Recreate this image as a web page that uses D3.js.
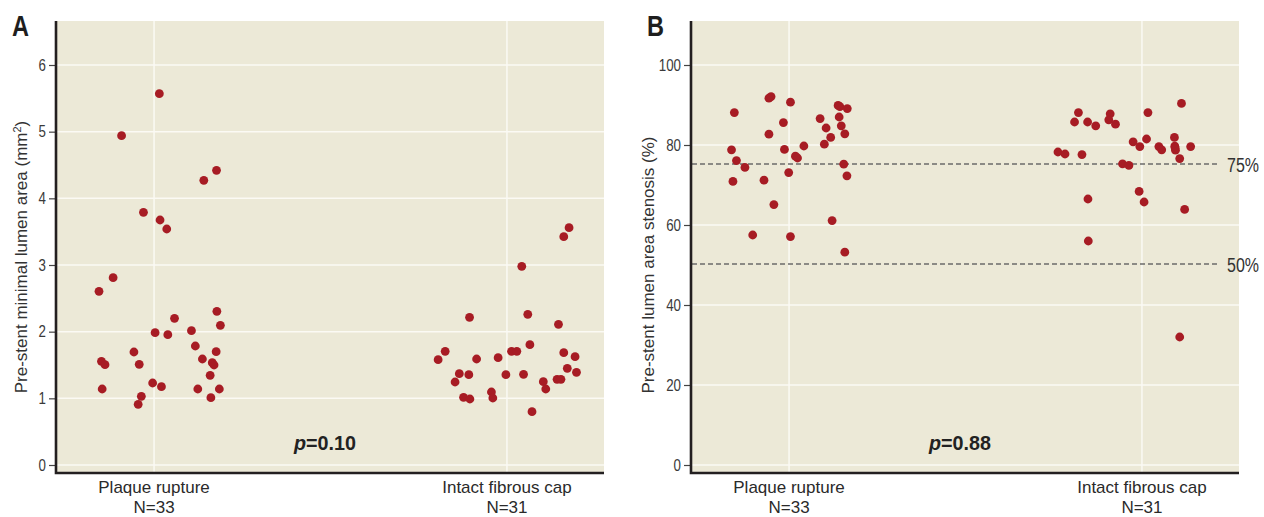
<!DOCTYPE html>
<html>
<head>
<meta charset="utf-8">
<script src="https://d3js.org/d3.v7.min.js"></script>
<style>
  body { margin: 0; background: #fff; }
  .tick text { font-family: "Liberation Sans", Arial, sans-serif; font-size: 16px; fill: #3a3a3a; }
  .tick line { stroke: #444; stroke-width: 1.2; }
</style>
</head>
<body>
<div id="chart"></div>
<script>
// groups on the x axis
var categories = ["Plaque rupture", "Intact fibrous cap"];
var groupN = ["N=33", "N=31"];

// panel A: pre-stent minimal lumen area (mm2), with horizontal jitter (in category units)
var areaRupture = [5.57, 4.94, 4.27, 4.42, 3.79, 3.675, 3.54, 2.605, 2.81, 1.555, 1.505, 1.14, 1.695, 1.51, 1.03, 0.91,
  1.985, 1.955, 2.2, 1.23, 1.175, 2.015, 1.785, 1.59, 2.305, 2.095, 1.70, 1.535, 1.50, 1.345, 1.14, 1.14, 1.01];
var areaRuptureJitter = [0.015, -0.092, 0.141, 0.177, -0.030, 0.017, 0.036, -0.156, -0.116, -0.149, -0.139, -0.147, -0.057, -0.042, -0.036, -0.045,
  0.003, 0.039, 0.058, -0.004, 0.021, 0.106, 0.117, 0.137, 0.178, 0.188, 0.176, 0.165, 0.170, 0.159, 0.124, 0.185, 0.161];
var areaIntact = [3.56, 3.425, 2.98, 2.215, 2.26, 2.11, 1.58, 1.705, 1.59, 1.61, 1.705, 1.705, 1.805, 1.685, 1.625, 1.37,
  1.355, 1.245, 1.355, 1.36, 1.45, 1.39, 1.25, 1.14, 1.285, 1.285, 1.015, 0.99, 1.095, 1.005, 0.80];
var areaIntactJitter = [0.176, 0.161, 0.042, -0.106, 0.059, 0.146, -0.195, -0.175, -0.086, -0.025, 0.013, 0.028, 0.065, 0.161, 0.193, -0.135,
  -0.108, -0.147, -0.003, 0.047, 0.171, 0.197, 0.103, 0.110, 0.142, 0.153, -0.123, -0.105, -0.044, -0.040, 0.071];

// panel B: pre-stent lumen area stenosis (%)
var stenRupture = [88.1, 78.8, 76.1, 74.4, 70.9, 71.2, 57.5, 65.1, 91.7, 92.1, 90.7, 85.6, 82.7, 78.9, 77.2, 76.75, 73.1,
  57.1, 79.75, 86.6, 84.25, 81.9, 80.2, 89.9, 89.6, 89.1, 87.0, 84.8, 82.8, 75.2, 72.3, 61.1, 53.2];
var stenRuptureJitter = [-0.155, -0.163, -0.149, -0.125, -0.159, -0.071, -0.103, -0.043, -0.057, -0.051, 0.004, -0.016, -0.057, -0.013, 0.018, 0.024, -0.001,
  0.004, 0.042, 0.088, 0.105, 0.118, 0.100, 0.139, 0.144, 0.165, 0.142, 0.148, 0.158, 0.155, 0.164, 0.122, 0.158];
var stenIntact = [88.1, 85.75, 85.75, 84.8, 87.8, 86.3, 85.2, 88.1, 90.4, 78.25, 77.75, 77.6, 80.8, 79.6, 81.5, 81.9,
  79.6, 78.8, 79.7, 78.7, 79.6, 76.6, 75.3, 74.9, 68.4, 65.75, 66.5, 63.9, 56.0, 32.0, 79.3];
var stenIntactJitter = [-0.180, -0.191, -0.154, -0.131, -0.090, -0.094, -0.075, 0.017, 0.112, -0.238, -0.218, -0.170, -0.025, -0.006, 0.013, 0.092,
  0.048, 0.056, 0.093, 0.095, 0.138, 0.107, -0.055, -0.037, -0.008, 0.006, -0.153, 0.121, -0.152, 0.107, 0.094];

var areaTicks = [0, 1, 2, 3, 4, 5, 6];
var stenTicks = [0, 20, 40, 60, 80, 100];
var stenCutoffs = [75, 50];
var pValues = ["0.10", "0.88"];

var Width = 1264, Height = 517;
var bg = "#ece9d7", dotColor = "#a71c24", ink = "#231f20";

var svg = d3.select("#chart").append("svg")
  .attr("width", Width)
  .attr("height", Height)
  .style("font-family", "'Liberation Sans', Arial, sans-serif");

function drawPanel(p) {
  var x = d3.scaleLinear().domain([-0.275, 1.275]).range([p.left, p.left + p.width]);
  var y = d3.scaleLinear().domain(p.yDomain).range([p.top + p.height, p.top]);

  // plot background
  svg.append("rect")
    .attr("x", p.left).attr("y", p.top)
    .attr("width", p.width).attr("height", p.height)
    .attr("fill", bg);

  // grid
  svg.append("g").selectAll("line.h")
    .data(p.ticks).enter().append("line")
      .attr("x1", p.left).attr("x2", p.left + p.width)
      .attr("y1", function(d) { return y(d); })
      .attr("y2", function(d) { return y(d); })
      .attr("stroke", "#fbfaf4").attr("stroke-width", 1.5);
  svg.append("g").selectAll("line.v")
    .data(categories).enter().append("line")
      .attr("x1", function(d, i) { return x(i); })
      .attr("x2", function(d, i) { return x(i); })
      .attr("y1", p.top).attr("y2", p.top + p.height)
      .attr("stroke", "#fbfaf4").attr("stroke-width", 1.5);

  // reference lines (panel B)
  if (p.cutoffs) {
    svg.append("g").selectAll("line")
      .data(p.cutoffs).enter().append("line")
        .attr("x1", p.left).attr("x2", p.left + p.width - 21)
        .attr("y1", function(d) { return y(d) - 1; })
        .attr("y2", function(d) { return y(d) - 1; })
        .attr("stroke", "#6b6b6b").attr("stroke-width", 1.3)
        .attr("stroke-dasharray", "5,3");
    // narrow, tall labels: small font stretched vertically
    svg.append("g").selectAll("text")
      .data(p.cutoffs).enter().append("text")
        .attr("transform", function(d) {
          return "translate(" + (p.left + p.width - 12) + "," + (y(d) + 7) + ") scale(1,1.3)";
        })
        .attr("font-size", 16)
        .attr("fill", "#333")
        .text(function(d) { return d + "%"; });
  }

  // y axis ticks
  svg.append("g")
    .attr("transform", "translate(" + (p.left - 1) + ",0)")
    .call(d3.axisLeft(y).tickValues(p.ticks).tickFormat(d3.format("d")).tickSize(7).tickPadding(3))
    .call(function(g) {
      g.select(".domain").remove();
      g.selectAll(".tick text")
        .attr("textLength", function(d) { return String(d).length * 7.4; })
        .attr("lengthAdjust", "spacingAndGlyphs");
    });

  // axis lines
  svg.append("path")
    .attr("d", "M" + (p.left - 1) + "," + p.top + "V" + (p.top + p.height + 1) + "H" + (p.left + p.width))
    .attr("fill", "none").attr("stroke", ink).attr("stroke-width", 2.6);

  // dots
  p.groups.forEach(function(grp, gi) {
    svg.append("g").selectAll("circle")
      .data(grp.values).enter().append("circle")
        .attr("cx", function(d, i) { return x(gi + grp.jitter[i]); })
        .attr("cy", function(d) { return y(d); })
        .attr("r", 4.4)
        .attr("fill", dotColor);
  });

  // category labels
  svg.append("g").selectAll("text")
    .data(categories).enter().append("text")
      .attr("x", function(d, i) { return x(i); })
      .attr("y", 493)
      .attr("text-anchor", "middle")
      .attr("font-size", 17)
      .attr("fill", "#2a2a2a")
      .text(function(d) { return d; });
  svg.append("g").selectAll("text")
    .data(groupN).enter().append("text")
      .attr("x", function(d, i) { return x(i); })
      .attr("y", 513)
      .attr("text-anchor", "middle")
      .attr("font-size", 17)
      .attr("fill", "#2a2a2a")
      .text(function(d) { return d; });

  // y axis title
  var t = svg.append("text")
    .attr("transform", "translate(" + p.titleX + "," + p.titleY + ") rotate(-90)")
    .attr("text-anchor", "middle")
    .attr("font-size", 17)
    .attr("fill", "#333")
    .text(p.title);
  if (p.titleSup) {
    t.append("tspan").attr("baseline-shift", "super").attr("font-size", 11).text(p.titleSup);
    t.append("tspan").text(")");
  }

  // p value
  var pt = svg.append("text")
    .attr("x", p.left + 268)
    .attr("y", 450)
    .attr("text-anchor", "middle")
    .attr("font-weight", "bold")
    .attr("font-size", 21)
    .attr("textLength", 62)
    .attr("lengthAdjust", "spacingAndGlyphs")
    .attr("fill", "#222");
  pt.append("tspan").attr("font-style", "italic").text("p");
  pt.append("tspan").text("=" + p.pValue);

  // panel letter
  svg.append("text")
    .attr("x", p.left - 45)
    .attr("y", 36)
    .attr("font-weight", "bold")
    .attr("font-size", 30)
    .attr("textLength", 17)
    .attr("lengthAdjust", "spacingAndGlyphs")
    .attr("fill", "#1e1e1e")
    .text(p.letter);
}

drawPanel({
  letter: "A", left: 57, top: 21, width: 547, height: 451,
  yDomain: [-0.105, 6.66], ticks: areaTicks,
  groups: [{values: areaRupture, jitter: areaRuptureJitter}, {values: areaIntact, jitter: areaIntactJitter}],
  title: "Pre-stent minimal lumen area (mm", titleSup: "2", titleX: 27, titleY: 257,
  pValue: pValues[0]
});

drawPanel({
  letter: "B", left: 692, top: 21, width: 547, height: 451,
  yDomain: [-1.75, 111], ticks: stenTicks, cutoffs: stenCutoffs,
  groups: [{values: stenRupture, jitter: stenRuptureJitter}, {values: stenIntact, jitter: stenIntactJitter}],
  title: "Pre-stent lumen area stenosis (%)", titleX: 654, titleY: 265,
  pValue: pValues[1]
});
</script>
</body>
</html>
